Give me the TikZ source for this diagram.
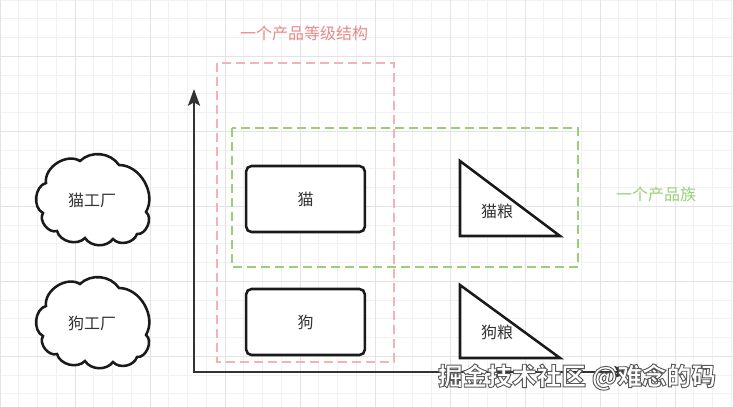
\documentclass[tikz,border=0pt]{standalone}
\usepackage{fontspec}
\setmainfont{Noto Sans CJK SC}
\usetikzlibrary{arrows.meta}
\definecolor{gridminor}{HTML}{F1F1F1}
\definecolor{gridmajor}{HTML}{E3E3E3}
\definecolor{ink}{HTML}{1A1A1A}
\definecolor{axisc}{HTML}{333333}
\definecolor{txt}{HTML}{333333}
\definecolor{pinkline}{HTML}{F2B3B3}
\definecolor{pinktext}{HTML}{E8898A}
\definecolor{greenline}{HTML}{97D077}
\newcommand\outlinedtext[1]{{\color{white}\special{pdf:literal direct 0.35 G 2 Tr 0.7 w}#1\special{pdf:literal direct 0 Tr}}}
\begin{document}
\begin{tikzpicture}[x=0.75pt,y=-0.75pt,
  minorline/.style={gridminor, line width=0.75pt},
  majorline/.style={gridmajor, line width=0.75pt},
  boxnode/.style={draw=ink, line width=1.9pt, rounded corners=4pt, fill=white,
    minimum width=89pt, minimum height=49.5pt, inner sep=0pt, font=\fontsize{12pt}{14pt}\selectfont, text=txt},
  shapeline/.style={draw=ink, line width=1.9pt, fill=white, line join=miter},
  cloudline/.style={draw=ink, line width=1.9pt, fill=white},
  label/.style={inner sep=0pt, font=\fontsize{12pt}{14pt}\selectfont, text=txt},
  pinkdash/.style={draw=pinkline, line width=1.9pt, dash pattern=on 6.5pt off 4pt},
  greendash/.style={draw=greenline, line width=1.9pt, dash pattern=on 6.5pt off 4pt},
  axisline/.style={draw=axisc, line width=1.9pt, -{Stealth[length=12.5pt,width=9pt,inset=2.5pt]}},
  wm/.style={inner sep=0pt, font=\fontsize{18.5pt}{20pt}\selectfont\bfseries}
]
\useasboundingbox (0,0) rectangle (733,407);
\fill[white] (0,0) rectangle (733,407);
% grid
\foreach \i in {0,...,39} {
  \draw[minorline] ({18.75*\i},0) -- ({18.75*\i},407);
}
\foreach \j in {0,...,21} {
  \draw[minorline] (0,{18.75*\j}) -- (733,{18.75*\j});
}
\foreach \i in {0,...,9} {
  \draw[majorline] ({75*\i},0) -- ({75*\i},407);
}
\foreach \j in {0,...,4} {
  \draw[majorline] (0,{56.25+75*\j}) -- (733,{56.25+75*\j});
}

% clouds
\foreach \cy/\nm/\txt in {199/catf/猫工厂, 322/dogf/狗工厂} {
  \begin{scope}[shift={(92,\cy)}]
    \draw[cloudline] (-46,-16) to[bend left=65] (-12,-38) to[bend left=50] (27,-34)
      to[bend left=60] (54,13) to[bend left=75] (45,35) to[bend left=60] (21,40)
      to[bend left=55] (-7,39) to[bend left=60] (-35,32) to[bend left=70] (-49,14)
      to[bend left=70] (-46,-16) -- cycle;
    \node[label] (\nm) at (0,1) {\txt};
  \end{scope}
}

% axes
\coordinate (origin) at (194,372);
\coordinate (ytip) at (194,89);
\coordinate (xtip) at (631,372);
\draw[axisline] (origin) -- (ytip);
\draw[axisline] ([xshift=-0.95pt]origin) -- (xtip);

% group frames
\draw[pinkdash] (217,63) rectangle (394,362);
\draw[greendash] (232,128) rectangle (578,267);
\node[inner sep=0pt, font=\fontsize{12pt}{14pt}\selectfont, text=pinktext] (levelt) at (304,33) {一个产品等级结构};
\node[inner sep=0pt, font=\fontsize{12pt}{14pt}\selectfont, text=greenline] (familyt) at (656,194) {一个产品族};

% products
\node[boxnode] (cat) at (305.5,199) {猫};
\node[boxnode] (dog) at (305.5,322) {狗};

\draw[shapeline] (460,161) -- (460,236) -- (560,236) -- cycle;
\node[label] (catfood) at (497,211) {猫粮};
\draw[shapeline] (460,285) -- (460,358) -- (560,358) -- cycle;
\node[label] (dogfood) at (497,332) {狗粮};

% watermark
\node[wm] (wm) at (577,377) {\outlinedtext{掘金技术社区 @难念的码}};
\end{tikzpicture}
\end{document}
